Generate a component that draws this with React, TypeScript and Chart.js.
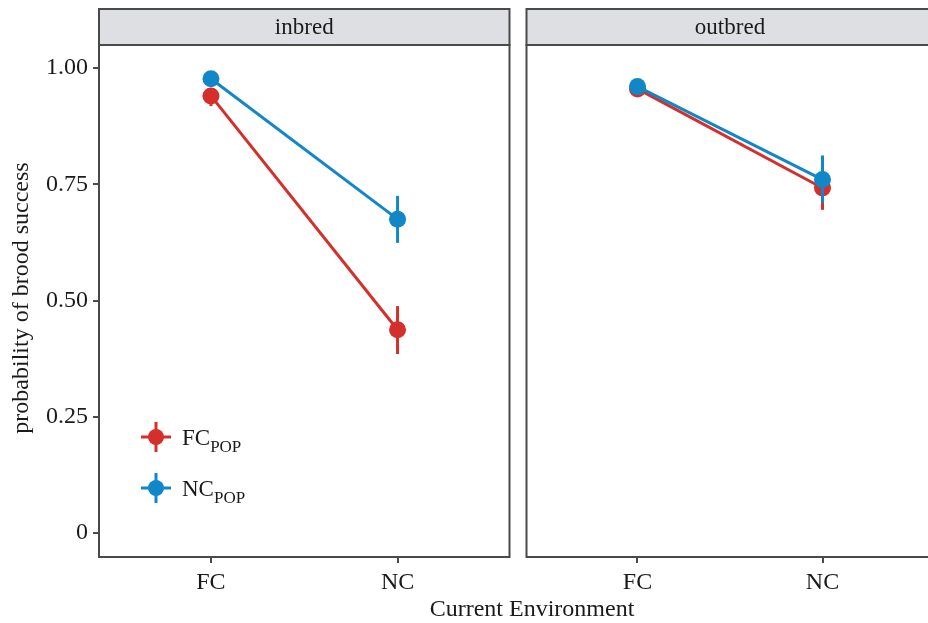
import React, { useEffect, useRef } from "react";
import { Chart, registerables } from "chart.js";

Chart.register(...registerables);

const categories = ["FC", "NC"];
const panels = ["inbred", "outbred"];
const seriesNames = ["FC", "NC"]; // subscript POP
const yTicks = [0, 0.25, 0.5, 0.75, 1.0];
const yTickLabels = ["0", "0.25", "0.50", "0.75", "1.00"];

// inbred panel
const inbredFCpop = [0.94, 0.437];
const inbredFCpopLo = [0.918, 0.385];
const inbredFCpopHi = [0.957, 0.488];
const inbredNCpop = [0.977, 0.675];
const inbredNCpopLo = [0.965, 0.624];
const inbredNCpopHi = [0.988, 0.725];

// outbred panel
const outbredFCpop = [0.955, 0.742];
const outbredFCpopLo = [0.94, 0.695];
const outbredFCpopHi = [0.967, 0.79];
const outbredNCpop = [0.96, 0.76];
const outbredNCpopLo = [0.948, 0.71];
const outbredNCpopHi = [0.971, 0.812];

const RED = "#D42F2A";
const BLUE = "#1287C8";
const FONT = "'Liberation Serif', 'DejaVu Serif', serif";
const BORDER = "#4a4a4a";

type Series = { vals: number[]; lo: number[]; hi: number[]; color: string };

function makeChart(
  canvas: HTMLCanvasElement,
  title: string,
  series: Series[],
  showY: boolean,
  padLeft: number,
  padRight: number
) {
  const panelPlugin = {
    id: "panel",
    beforeDatasetDraw(chart: any, args: any) {
      const s = series[args.index];
      const { ctx, scales } = chart;
      ctx.save();
      ctx.strokeStyle = s.color;
      ctx.lineWidth = 3;
      s.vals.forEach((_, i) => {
        const x = scales.x.getPixelForValue(i + 1);
        ctx.beginPath();
        ctx.moveTo(x, scales.y.getPixelForValue(s.lo[i]));
        ctx.lineTo(x, scales.y.getPixelForValue(s.hi[i]));
        ctx.stroke();
      });
      ctx.restore();
    },
    afterDraw(chart: any) {
      const { ctx, chartArea } = chart;
      const { left, right, top, bottom } = chartArea;
      ctx.save();
      // strip
      ctx.fillStyle = "#DEDFE3";
      ctx.fillRect(left, 9, right - left, top - 9);
      ctx.strokeStyle = BORDER;
      ctx.lineWidth = 2;
      ctx.strokeRect(left, 9, right - left, top - 9);
      ctx.strokeRect(left, top, right - left, bottom - top);
      ctx.fillStyle = "#1a1a1a";
      ctx.font = `23px ${FONT}`;
      ctx.textAlign = "center";
      ctx.textBaseline = "middle";
      ctx.fillText(title, (left + right) / 2, (9 + top) / 2 + 1);
      if (showY) {
        // y title
        ctx.save();
        ctx.font = `24px ${FONT}`;
        ctx.translate(22, (top + bottom) / 2 - 3);
        ctx.rotate(-Math.PI / 2);
        ctx.fillText("probability of brood success", 0, 0);
        ctx.restore();
        // legend
        const items = [
          { name: seriesNames[0], color: RED, y: 437 },
          { name: seriesNames[1], color: BLUE, y: 488 },
        ];
        items.forEach((it) => {
          const cx = 156;
          ctx.strokeStyle = it.color;
          ctx.fillStyle = it.color;
          ctx.lineWidth = 3;
          ctx.beginPath();
          ctx.moveTo(cx - 15, it.y);
          ctx.lineTo(cx + 15, it.y);
          ctx.moveTo(cx, it.y - 15);
          ctx.lineTo(cx, it.y + 15);
          ctx.stroke();
          ctx.beginPath();
          ctx.arc(cx, it.y, 8, 0, Math.PI * 2);
          ctx.fill();
          ctx.fillStyle = "#1a1a1a";
          ctx.textAlign = "left";
          ctx.textBaseline = "alphabetic";
          ctx.font = `23px ${FONT}`;
          ctx.fillText(it.name, 182, it.y + 8);
          const w = ctx.measureText(it.name).width;
          ctx.font = `17px ${FONT}`;
          ctx.fillText("POP", 182 + w, it.y + 15);
        });
      }
      ctx.restore();
    },
  };

  return new Chart(canvas, {
    type: "line",
    data: {
      datasets: series.map((s, k) => ({
        data: s.vals.map((v, i) => ({ x: i + 1, y: v })),
        borderColor: s.color,
        backgroundColor: s.color,
        borderWidth: 3,
        pointRadius: 8.5,
        pointBorderWidth: 0,
        pointBackgroundColor: s.color,
        tension: 0,
        order: series.length - k,
      })),
    },
    options: {
      responsive: false,
      animation: false,
      events: [],
      layout: { padding: { top: 45, left: padLeft, right: padRight, bottom: 0 } },
      plugins: { legend: { display: false }, tooltip: { enabled: false } },
      scales: {
        x: {
          type: "linear",
          min: 0.4,
          max: 2.6,
          afterBuildTicks: (s: any) => {
            s.ticks = categories.map((_, i) => ({ value: i + 1 }));
          },
          ticks: {
            callback: (v: any) => categories[Math.round(v) - 1],
            font: { family: FONT, size: 24 },
            color: "#1a1a1a",
            padding: 5,
            maxRotation: 0,
          },
          grid: { drawOnChartArea: false, drawTicks: true, tickLength: 6, color: BORDER, lineWidth: 2 },
          border: { display: false },
          afterFit: (s: any) => {
            s.height = 66;
          },
        },
        y: {
          type: "linear",
          min: -0.0516,
          max: 1.0495,
          display: showY,
          afterBuildTicks: (s: any) => {
            s.ticks = yTicks.map((v) => ({ value: v }));
          },
          ticks: {
            callback: (_v: any, i: number) => yTickLabels[i],
            font: { family: FONT, size: 24 },
            color: "#1a1a1a",
            padding: 5,
          },
          grid: { drawOnChartArea: false, drawTicks: true, tickLength: 6, color: BORDER, lineWidth: 2 },
          border: { display: false },
          afterFit: (s: any) => {
            s.width = showY ? 99 : 0;
          },
        },
      },
    },
    plugins: [panelPlugin],
  } as any);
}

export default function App() {
  const refA = useRef<HTMLCanvasElement>(null);
  const refB = useRef<HTMLCanvasElement>(null);
  useEffect(() => {
    const a = makeChart(
      refA.current!,
      panels[0],
      [
        { vals: inbredFCpop, lo: inbredFCpopLo, hi: inbredFCpopHi, color: RED },
        { vals: inbredNCpop, lo: inbredNCpopLo, hi: inbredNCpopHi, color: BLUE },
      ],
      true,
      0,
      7
    );
    const b = makeChart(
      refB.current!,
      panels[1],
      [
        { vals: outbredFCpop, lo: outbredFCpopLo, hi: outbredFCpopHi, color: RED },
        { vals: outbredNCpop, lo: outbredNCpopLo, hi: outbredNCpopHi, color: BLUE },
      ],
      false,
      7,
      5
    );
    return () => {
      a.destroy();
      b.destroy();
    };
  }, []);
  return (
    <div
      style={{
        position: "absolute",
        left: 0,
        top: 0,
        width: 928,
        height: 623,
        overflow: "hidden",
        background: "#fff",
      }}
    >
      <canvas ref={refA} width={518} height={623} style={{ position: "absolute", left: 0, top: 0 }} />
      <canvas ref={refB} width={424} height={623} style={{ position: "absolute", left: 518, top: 0 }} />
      <div
        style={{
          position: "absolute",
          left: 332,
          width: 400,
          top: 596,
          textAlign: "center",
          fontFamily: FONT,
          fontSize: 24,
          lineHeight: "24px",
          color: "#1a1a1a",
        }}
      >
        Current Environment
      </div>
    </div>
  );
}
